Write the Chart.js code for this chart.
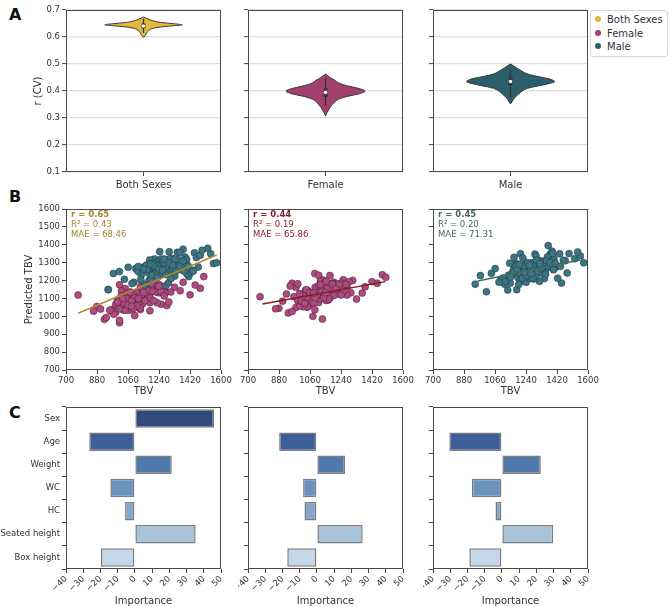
<!DOCTYPE html>
<html lang="en">
<head>
<meta charset="UTF-8">
<title>TBV prediction summary</title>
<script src="https://cdn.jsdelivr.net/npm/chart.js@4.4.0/dist/chart.umd.min.js"></script>
<style>
    body { margin: 0; background: #fff; font-family: "DejaVu Sans", sans-serif; }
    #wrap { position: relative; width: 669px; height: 607px; overflow: hidden; }
    canvas { position: absolute; }
    .tag { position: absolute; font-weight: bold; font-size: 16px; line-height: 16px; color: #111; }
    #legend { position: absolute; left: 590px; top: 10px; width: 76px; height: 45px; border: 1px solid #d6d6d6; border-radius: 3px; font-size: 10px; color: #333; }
    #legend div { position: absolute; left: 4px; white-space: nowrap; }
    #legend span { display: inline-block; width: 6px; height: 6px; border-radius: 50%; margin-right: 6px; vertical-align: 1px; }
</style>
</head>
<body>
<div id="wrap">
    <div class="tag" style="left:9px;top:7px">A</div>
    <div class="tag" style="left:9px;top:189px">B</div>
    <div class="tag" style="left:9px;top:405px">C</div>
    <div id="legend">
        <div style="top:3px"><span style="background:#e3b93b"></span>Both Sexes</div>
        <div style="top:17px"><span style="background:#a23f6e"></span>Female</div>
        <div style="top:30px"><span style="background:#2c5d6b"></span>Male</div>
    </div>
</div>
<script>
// ---- data ----
var groups = ['Both Sexes', 'Female', 'Male'];

// violin outlines: r (CV) levels and relative half-width
var violinBothY = [0.598, 0.605, 0.615, 0.625, 0.632, 0.638, 0.642, 0.645, 0.649, 0.654, 0.660, 0.665, 0.670, 0.674];
var violinBothW = [0, 0.02, 0.04, 0.07, 0.12, 0.25, 0.40, 0.50, 0.40, 0.22, 0.12, 0.07, 0.03, 0];
var violinFemaleY = [0.308, 0.32, 0.33, 0.34, 0.35, 0.36, 0.37, 0.38, 0.39, 0.40, 0.41, 0.42, 0.43, 0.44, 0.45, 0.463];
var violinFemaleW = [0, 0.02, 0.04, 0.06, 0.09, 0.12, 0.17, 0.28, 0.44, 0.51, 0.42, 0.27, 0.17, 0.12, 0.06, 0];
var violinMaleY = [0.352, 0.36, 0.37, 0.38, 0.39, 0.40, 0.41, 0.42, 0.43, 0.435, 0.445, 0.455, 0.465, 0.475, 0.485, 0.495, 0.50];
var violinMaleW = [0, 0.02, 0.04, 0.07, 0.11, 0.15, 0.22, 0.38, 0.53, 0.57, 0.50, 0.33, 0.20, 0.14, 0.08, 0.03, 0];
// inner box: whisker low, q1, median, q3, whisker high
var boxBoth = [0.615, 0.632, 0.641, 0.650, 0.668];
var boxFemale = [0.345, 0.378, 0.395, 0.410, 0.448];
var boxMale = [0.378, 0.420, 0.435, 0.450, 0.480];

// scatter: true TBV and predicted TBV
var femaleTBV = [1143,978,1198,1066,1275,1011,1121,1330,923,1176,1088,1231,1033,1154,956,1209,1099,1308,1044,1132,
    1000,1253,1077,1187,879,1165,1022,1286,1110,967,1209,1055,1242,989,1143,1363,1066,1176,934,1220,
    1088,1154,1011,1264,1044,1198,901,1121,1297,1077,1165,978,1231,1033,1132,1099,1275,945,1187,1022,
    1480,1055,1143,1000,1420,1110,1077,1209,956,1176,1044,1242,860,1154,1011,1220,1088,1198,989,1132,
    770,1500,1450,1380,
    1050,1120,1180,1090,1010,1140,1230,1070,1160,1100,1040,1200,1130,1080,1250,1020,1110,1170,1060,1190,
    1140,1000,1210,1090,1150,1030,1270,1120,1080,1240];
var femalePredAll = [1139,1043,1164,1034,1139,1176,1076,1163,983,1150,1079,1134,1036,1164,1034,1148,1004,1136,1155,1083,
    1092,1067,1135,1076,1055,1098,1142,1060,1124,1027,1229,1059,1132,1023,1184,1143,1070,1146,994,1141,
    1061,1155,964,1141,1038,1155,1041,1130,1080,1094,1117,1012,1152,1059,1164,1049,1130,1149,1031,1101,
    1157,1131,1067,1088,1120,1133,1081,1193,1034,1114,1034,1177,1029,1133,978,1137,1052,1182,1068,1038,
    1119,1222,1175,1190,
    1100,1069,1116,1123,1042,1103,1076,1134,1087,1105,1073,1140,1046,1086,1140,1114,1057,1149,1062,1103,
    1123,1080,1087,1043,1135,1101,1114,1099,1056,1168];
var femalePredOwn = [1154,1049,1191,1087,1164,1104,1196,1097,1125,1102,1239,1125,1126,1089,1185,1143,1110,1201,1052,1157,
    1080,1205,1000,1158,1045,1181,1102,1193,1077,1110,1157,1062,1185,1087,1200,1130,1122,1228,1019,1172,
    1113,1184,1078,1171,1052,1182,1085,1209,1132,1129,1091,1162,1134,1145,985,1147,1119,1169,1140,1053,
    1232,1094,1186,1058,1194,1230,1102,1170,1027,1183,1106,1167,1042,1197,1082,1181,1037,1146,1182,1117,
    1110,1218,1185,1165,
    1141,1098,1153,1163,1089,1126,1177,1084,1155,1114,1149,1117,1140,1076,1136,1115,1171,1097,1132,1180,
    1106,1127,1154,1103,1133,1072,1179,1178,1131,1119];
var maleTBV = [1369,1259,1468,1204,1292,1160,1413,1237,1347,1039,1325,1182,1446,1270,1127,1375,1215,1402,1149,1303,
    1523,1226,1336,1094,1380,1248,1314,1171,1424,1198,1358,1061,1281,1457,1241,1320,1138,1391,1193,1288,
    1262,1435,1105,1343,1186,1556,1212,1299,1156,1479,1274,1233,1364,1116,1332,1208,1398,975,1318,1175,
    1384,1251,1354,1145,1295,1307,1134,1361,1222,1440,1167,1285,1490,1083,1340,1244,1395,1197,1310,1120,
    945,1575,1540,1010,
    1230,1290,1350,1180,1260,1320,1210,1280,1400,1250,1300,1170,1340,1220,1270,1310,1190,1360,1240,1330,
    1200,1280,1380,1150,1260,1300,1230,1410,1270,1320];
var malePredAll = [1284,1285,1276,1315,1250,1280,1222,1267,1358,1207,1304,1201,1355,1241,1247,1290,1321,1236,1273,1244,
    1380,1240,1298,1190,1375,1266,1267,1287,1245,1280,1265,1274,1172,1329,1226,1323,1233,1331,1207,1282,
    1282,1257,1268,1269,1315,1295,1262,1361,1174,1341,1263,1308,1262,1254,1225,1295,1295,1240,1256,1258,
    1253,1321,1276,1272,1188,1300,1206,1357,1260,1253,1286,1253,1369,1183,1299,1362,1281,1279,1212,1279,
    1150,1300,1350,1250,
    1282,1250,1318,1241,1308,1266,1282,1278,1319,1231,1322,1263,1256,1239,1300,1289,1293,1280,1264,1319,
    1230,1233,1310,1264,1258,1297,1217,1281,1320,1286];
var malePredOwn = [1396,1235,1311,1201,1348,1237,1274,1293,1211,1241,1243,1296,1186,1277,1191,1325,1239,1321,1186,1275,
    1322,1196,1308,1206,1348,1215,1272,1330,1213,1272,1267,1267,1230,1314,1190,1309,1229,1364,1217,1272,
    1212,1350,1214,1304,1149,1337,1212,1337,1237,1242,1300,1230,1332,1180,1284,1350,1266,1228,1196,1285,
    1273,1273,1236,1297,1237,1302,1147,1281,1326,1280,1261,1208,1351,1191,1282,1250,1351,1178,1298,1194,
    1180,1300,1360,1138,
    1281,1243,1290,1276,1227,1309,1237,1281,1260,1300,1225,1249,1298,1214,1264,1252,1263,1312,1228,1271,
    1290,1216,1301,1220,1287,1315,1246,1297,1239,1294];
// regression lines: [x0, x1], [y0, y1]
var fitAllX = [770, 1575], fitAllY = [1017, 1343];
var fitFemaleX = [784, 1497], fitFemaleY = [1069, 1194];
var fitMaleX = [960, 1555], fitMaleY = [1198, 1315];
var statsAll = ['r = 0.65', 'R² = 0.43', 'MAE = 68.46'];
var statsFemale = ['r = 0.44', 'R² = 0.19', 'MAE = 65.86'];
var statsMale = ['r = 0.45', 'R² = 0.20', 'MAE = 71.31'];

// feature importance
var features = ['Sex', 'Age', 'Weight', 'WC', 'HC', 'Seated height', 'Box height'];
var importanceAll = [46, -26.5, 21.4, -14.2, -5.7, 35.3, -19.7];
var importanceFemale = [null, -21.9, 16.4, -8, -7.2, 26.6, -17.2];
var importanceMale = [null, -30.5, 22.6, -17.4, -3.7, 29.8, -18.9];

// ---- layout & style ----
var FONT = '"DejaVu Sans", sans-serif';
var TXT = '#333';
var PAD_R = 12;
var cols = [{ x: 0, left: 66, right: 221 }, { x: 238, left: 248, right: 403 }, { x: 423, left: 433, right: 588 }];
var rows = { A: { top: 10, bottom: 172, axis: 25 }, B: { top: 209, bottom: 370, axis: 27 }, C: { top: 407, bottom: 569, axis: 38 } };
var barColors = ['#2f4b7c', '#3c5f99', '#5079ac', '#6a93bf', '#84a8cc', '#a9c3d9', '#c5d6e8'];

Chart.defaults.font.family = FONT;
Chart.defaults.color = TXT;

var frame = {
    id: 'frame',
    afterDraw: function (chart) {
        var a = chart.chartArea, g = chart.ctx;
        g.save();
        g.strokeStyle = '#4a4a4a';
        g.lineWidth = 1;
        g.strokeRect(Math.round(a.left) + 0.5, Math.round(a.top) + 0.5, Math.round(a.right - a.left) - 1, Math.round(a.bottom - a.top) - 1);
        g.restore();
    }
};
var stats = {
    id: 'stats',
    afterDatasetsDraw: function (chart, args, opts) {
        if (!opts || !opts.lines) return;
        var a = chart.chartArea, g = chart.ctx;
        g.save();
        g.fillStyle = opts.color;
        g.textBaseline = 'top';
        opts.lines.forEach(function (t, i) {
            g.font = (i === 0 ? 'bold ' : '') + '8.5px ' + FONT;
            g.fillText(t, a.left + 5, a.top + 2 + i * 9.6);
        });
        g.restore();
    }
};
Chart.register(frame, stats);

function makeCanvas(col, row) {
    var c = document.createElement('canvas');
    var x = col.x, y = row.top - 5;
    var w = col.right + PAD_R - x, h = row.bottom + row.axis - y;
    c.width = w; c.height = h;
    c.style.left = x + 'px'; c.style.top = y + 'px';
    c.style.width = w + 'px'; c.style.height = h + 'px';
    document.getElementById('wrap').appendChild(c);
    return c;
}

function tickGrid(onArea) {
    return { drawOnChartArea: !!onArea, color: onArea ? '#dedede' : '#444', lineWidth: onArea ? 1.2 : 1, tickColor: '#444', tickLength: 4, tickWidth: 1 };
}

function baseOptions(col, row) {
    return {
        responsive: false,
        animation: false,
        layout: { padding: { top: 5, right: PAD_R, left: 0, bottom: 0 } },
        plugins: { legend: { display: false }, tooltip: { enabled: false } },
        fitY: function (s) { s.width = col.left - col.x; s.paddingTop = 0; s.paddingBottom = 0; },
        fitX: function (s) { s.height = row.axis; s.paddingLeft = 0; s.paddingRight = 0; }
    };
}

function pts(xs, ys) {
    return xs.map(function (x, i) { return { x: x, y: ys[i] }; });
}

// ---- row A: violins ----
function violin(colIdx, name, ys, ws, box, color) {
    var col = cols[colIdx], row = rows.A;
    var o = baseOptions(col, row);
    var right = ys.map(function (y, i) { return { x: ws[i], y: y }; });
    var left = ys.map(function (y, i) { return { x: -ws[i], y: y }; }).reverse();
    new Chart(makeCanvas(col, row), {
        type: 'scatter',
        data: {
            datasets: [
                { data: [{ x: 0, y: box[2] }], pointRadius: 1.8, pointBackgroundColor: '#fff', pointBorderWidth: 0, order: 0 },
                { data: [{ x: 0, y: box[1] }, { x: 0, y: box[3] }], showLine: true, borderColor: '#333', borderWidth: 4, pointRadius: 0, order: 1 },
                { data: [{ x: 0, y: box[0] }, { x: 0, y: box[4] }], showLine: true, borderColor: '#333', borderWidth: 1.3, pointRadius: 0, order: 2 },
                { data: right.concat(left), showLine: true, fill: 'shape', tension: 0.35, backgroundColor: color, borderColor: '#3a3a3a', borderWidth: 1, pointRadius: 0, order: 3 }
            ]
        },
        options: Object.assign(o, {
            scales: {
                x: {
                    type: 'linear', min: -1, max: 1,
                    afterBuildTicks: function (s) { s.ticks = [{ value: 0 }]; },
                    afterFit: o.fitX,
                    grid: tickGrid(false), border: { display: false },
                    ticks: { font: { size: 10 }, padding: 3, callback: function () { return name; } }
                },
                y: {
                    min: 0.1, max: 0.7,
                    afterFit: o.fitY,
                    grid: tickGrid(true), border: { display: false },
                    title: { display: colIdx === 0, text: 'r (CV)', font: { size: 10 }, padding: { top: 32, bottom: 0 } },
                    ticks: { stepSize: 0.1, font: { size: 8.5 }, padding: 2, callback: function (v) { return colIdx === 0 ? v.toFixed(1) : ''; } }
                }
            }
        })
    });
}
violin(0, groups[0], violinBothY, violinBothW, boxBoth, '#e3b93b');
violin(1, groups[1], violinFemaleY, violinFemaleW, boxFemale, '#a23f6e');
violin(2, groups[2], violinMaleY, violinMaleW, boxMale, '#2c5d6b');

// ---- row B: scatter ----
var femaleStyle = { backgroundColor: '#b04a80', borderColor: '#3a2030' };
var maleStyle = { backgroundColor: '#3d7482', borderColor: '#1c3640' };

function scatter(colIdx, clouds, fitX, fitY, fitColor, lines, textColor) {
    var col = cols[colIdx], row = rows.B;
    var o = baseOptions(col, row);
    var ds = [{ type: 'line', data: pts(fitX, fitY), borderColor: fitColor, borderWidth: 1.5, pointRadius: 0, order: 0 }];
    clouds.forEach(function (c, i) {
        ds.push({ data: pts(c.x, c.y), pointRadius: 3.5, pointBorderWidth: 0.5, backgroundColor: c.style.backgroundColor, borderColor: c.style.borderColor, order: i + 1 });
    });
    o.plugins.stats = { lines: lines, color: textColor };
    new Chart(makeCanvas(col, row), {
        type: 'scatter',
        data: { datasets: ds },
        options: Object.assign(o, {
            scales: {
                x: {
                    type: 'linear', min: 700, max: 1600,
                    afterFit: o.fitX,
                    grid: tickGrid(false), border: { display: false },
                    title: { display: true, text: 'TBV', font: { size: 10 }, padding: { top: 0, bottom: 0 } },
                    ticks: { stepSize: 180, font: { size: 8.5 }, padding: 2, maxRotation: 0, autoSkip: false,
                        callback: function (v) { return String(v); } }
                },
                y: {
                    min: 700, max: 1600,
                    afterFit: o.fitY,
                    grid: tickGrid(false), border: { display: false },
                    title: { display: colIdx === 0, text: 'Predicted TBV', font: { size: 10 }, padding: { top: 23, bottom: 0 } },
                    ticks: { stepSize: 100, font: { size: 8.5 }, padding: 2, callback: function (v) { return colIdx === 0 ? String(v) : ''; } }
                }
            }
        })
    });
}
scatter(0, [{ x: maleTBV, y: malePredAll, style: maleStyle }, { x: femaleTBV, y: femalePredAll, style: femaleStyle }],
    fitAllX, fitAllY, '#b38b2c', statsAll, '#a8852e');
scatter(1, [{ x: femaleTBV, y: femalePredOwn, style: femaleStyle }], fitFemaleX, fitFemaleY, '#8b1a1a', statsFemale, '#8b1c2c');
scatter(2, [{ x: maleTBV, y: malePredOwn, style: maleStyle }], fitMaleX, fitMaleY, '#3f6f5b', statsMale, '#3d6b5b');

// ---- row C: importance bars ----
function bars(colIdx, values) {
    var col = cols[colIdx], row = rows.C;
    var o = baseOptions(col, row);
    new Chart(makeCanvas(col, row), {
        type: 'bar',
        data: {
            labels: features,
            datasets: [{ data: values, backgroundColor: barColors, borderColor: '#7d7d7d', borderWidth: 1.5, borderSkipped: false, barPercentage: 0.8, categoryPercentage: 1 }]
        },
        options: Object.assign(o, {
            indexAxis: 'y',
            scales: {
                x: {
                    type: 'linear', min: -40, max: 50,
                    afterFit: o.fitX,
                    grid: tickGrid(false), border: { display: false },
                    title: { display: true, text: 'Importance', font: { size: 10 }, padding: { top: 0, bottom: 0 } },
                    ticks: { stepSize: 10, font: { size: 8.5 }, padding: 1, minRotation: 45, maxRotation: 45, autoSkip: false,
                        callback: function (v) { return v < 0 ? '\u2212' + Math.abs(v) : String(v); } }
                },
                y: {
                    afterFit: o.fitY,
                    grid: tickGrid(false), border: { display: false },
                    ticks: { font: { size: 8.5 }, padding: 2, callback: function (v, i) { return colIdx === 0 ? features[i] : ''; } }
                }
            }
        })
    });
}
bars(0, importanceAll);
bars(1, importanceFemale);
bars(2, importanceMale);
</script>
</body>
</html>
